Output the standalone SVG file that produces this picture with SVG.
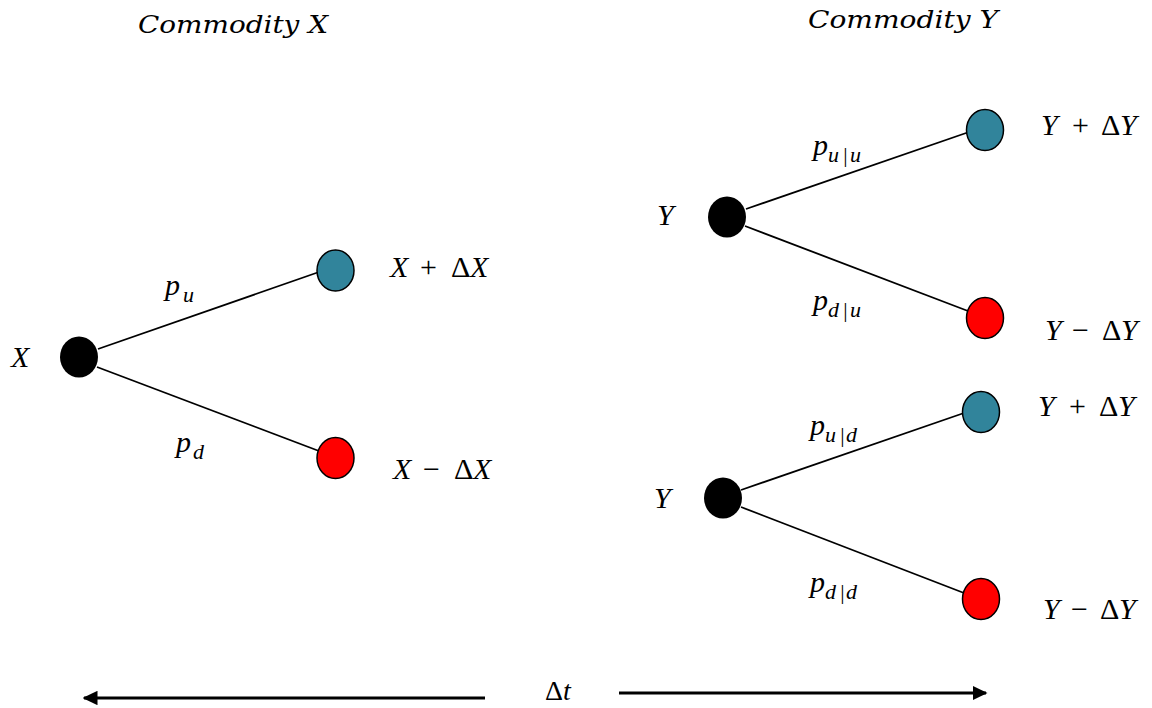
<svg xmlns="http://www.w3.org/2000/svg" width="1152" height="708" viewBox="0 0 1152 708">
<defs>
<marker id="ah" viewBox="0 0 10 10" refX="9" refY="5" markerWidth="5" markerHeight="4.8" orient="auto-start-reverse" markerUnits="strokeWidth" preserveAspectRatio="none">
<path d="M0,0 L10,5 L0,10 z" fill="#000"/>
</marker>
</defs>
<style>
text{font-family:"Liberation Serif","DejaVu Serif",serif;font-style:italic;fill:#000}
.lbl{font-size:30px}
.up{fill:#31849B;stroke:#000;stroke-width:1.5}
.dn{fill:#FF0000;stroke:#000;stroke-width:1.5}
.root{fill:#000}
.edge{stroke:#000;stroke-width:1.8;fill:none}
.sub{font-size:22px}
.ttl{font-family:"DejaVu Serif","Liberation Serif",serif;font-size:25px}
.op{font-style:normal}
.axis{stroke:#000;stroke-width:3}
.dt{font-size:28px}
</style>
<rect width="1152" height="708" fill="#fff"/>
<g id="connectors">
<line class="edge" x1="98" y1="349" x2="319" y2="272"/>
<line class="edge" x1="97" y1="367" x2="319" y2="451"/>
<line class="edge" x1="746" y1="209" x2="969" y2="132"/>
<line class="edge" x1="745" y1="226" x2="968" y2="311"/>
<line class="edge" x1="741" y1="490" x2="964" y2="413"/>
<line class="edge" x1="741" y1="507" x2="964" y2="593"/>
<line class="axis" x1="485" y1="698" x2="84" y2="698" marker-end="url(#ah)"/>
<line class="axis" x1="619" y1="693" x2="986" y2="693" marker-end="url(#ah)"/>
</g>
<g id="titles">
<text class="ttl" x="138" y="33" textLength="190" lengthAdjust="spacingAndGlyphs">Commodity X</text>
<text class="ttl" x="808" y="28" textLength="190" lengthAdjust="spacingAndGlyphs">Commodity Y</text>
</g>
<g id="nodeX">
<ellipse class="root" cx="79" cy="357" rx="19" ry="20.5"/>
<text class="lbl" x="11" y="367">X</text>
</g>
<g id="nodeXup">
<ellipse class="up" cx="335.5" cy="270.5" rx="18.5" ry="20.5"/>
<text class="lbl" y="277"><tspan x="390">X</tspan><tspan class="op" x="420">+</tspan><tspan class="op" x="451">Δ</tspan><tspan x="470">X</tspan></text>
</g>
<g id="nodeXdn">
<ellipse class="dn" cx="335.5" cy="458" rx="18.5" ry="20.5"/>
<text class="lbl" y="479"><tspan x="393">X</tspan><tspan class="op" x="423">−</tspan><tspan class="op" x="454">Δ</tspan><tspan x="473">X</tspan></text>
</g>
<g id="labelsX">
<text class="lbl" x="165" y="295">p<tspan class="sub" x="183" y="302">u</tspan></text>
<text class="lbl" x="176" y="452">p<tspan class="sub" x="193" y="459">d</tspan></text>
</g>
<g id="nodeY1">
<ellipse class="root" cx="727" cy="217" rx="19" ry="20.5"/>
<text class="lbl" x="657" y="225">Y</text>
</g>
<g id="nodeY1up">
<ellipse class="up" cx="985" cy="130" rx="18.5" ry="20.5"/>
<text class="lbl" y="135"><tspan x="1041">Y</tspan><tspan class="op" x="1072">+</tspan><tspan class="op" x="1101">Δ</tspan><tspan x="1120">Y</tspan></text>
</g>
<g id="nodeY1dn">
<ellipse class="dn" cx="985" cy="318" rx="18.5" ry="20.5"/>
<text class="lbl" y="340"><tspan x="1045">Y</tspan><tspan class="op" x="1072">−</tspan><tspan class="op" x="1102">Δ</tspan><tspan x="1121">Y</tspan></text>
</g>
<g id="labelsY1">
<text class="lbl" x="813" y="155">p<tspan class="sub" x="828" y="162">u</tspan><tspan class="sub" x="842" y="162">|</tspan><tspan class="sub" x="850" y="162">u</tspan></text>
<text class="lbl" x="813" y="310">p<tspan class="sub" x="828" y="317">d</tspan><tspan class="sub" x="842" y="317">|</tspan><tspan class="sub" x="850" y="317">u</tspan></text>
</g>
<g id="nodeY2">
<ellipse class="root" cx="723" cy="498" rx="19" ry="20.5"/>
<text class="lbl" x="654" y="508">Y</text>
</g>
<g id="nodeY2up">
<ellipse class="up" cx="981" cy="412" rx="18.5" ry="20.5"/>
<text class="lbl" y="416"><tspan x="1038">Y</tspan><tspan class="op" x="1069">+</tspan><tspan class="op" x="1099">Δ</tspan><tspan x="1118">Y</tspan></text>
</g>
<g id="nodeY2dn">
<ellipse class="dn" cx="981" cy="599" rx="18.5" ry="20.5"/>
<text class="lbl" y="619"><tspan x="1043">Y</tspan><tspan class="op" x="1071">−</tspan><tspan class="op" x="1100">Δ</tspan><tspan x="1119">Y</tspan></text>
</g>
<g id="labelsY2">
<text class="lbl" x="810" y="435">p<tspan class="sub" x="825" y="442">u</tspan><tspan class="sub" x="839" y="442">|</tspan><tspan class="sub" x="846" y="442">d</tspan></text>
<text class="lbl" x="810" y="592">p<tspan class="sub" x="825" y="599">d</tspan><tspan class="sub" x="839" y="599">|</tspan><tspan class="sub" x="846" y="599">d</tspan></text>
</g>
<g id="timeLabel">
<text class="dt" y="700"><tspan class="op" x="545">Δ</tspan><tspan x="563">t</tspan></text>
</g>
</svg>
